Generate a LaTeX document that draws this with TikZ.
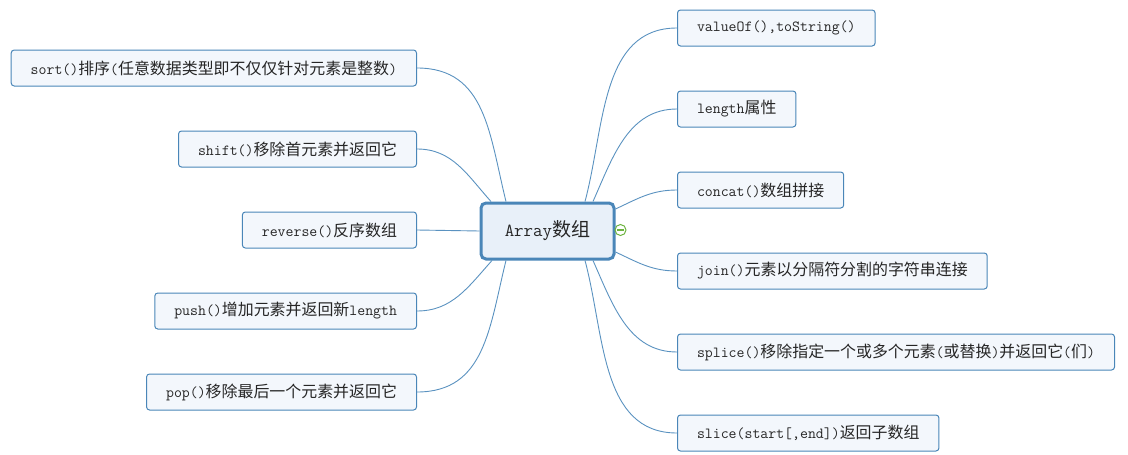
\documentclass[tikz,border=0pt]{standalone}
\usepackage{fontspec}
\newfontfamily\cjkfont{Noto Sans CJK SC}[Scale=1.035]
\usetikzlibrary{positioning}
\definecolor{MapBlue}{HTML}{4A86B8}
\definecolor{LineBlue}{HTML}{5A92C0}
\definecolor{TopicFill}{HTML}{F3F7FC}
\definecolor{RootFill}{HTML}{E8F0F9}
\definecolor{FoldGreen}{HTML}{6CB33F}
\newcommand{\zh}[1]{{\cjkfont #1}}

\begin{document}
\begin{tikzpicture}[
  x=1pt, y=1pt,
  root/.style={draw=MapBlue, line width=3pt, rounded corners=5pt, fill=RootFill, minimum width=133pt, minimum height=56pt, font=\fontsize{18.4}{21}\selectfont\ttfamily, text=black!85},
  topic/.style={draw=MapBlue, line width=1pt, rounded corners=3pt, fill=TopicFill, minimum height=36pt, inner xsep=19.5pt, font=\fontsize{15.4}{18}\selectfont\ttfamily, text=black!85},
  lhs/.style={topic, anchor=east},
  rhs/.style={topic, anchor=west},
  branch/.style={LineBlue, line width=0.9pt}
]
\useasboundingbox (0,0) rectangle (1128,-455);

\node[root] (arr) at (547.5,-231) {Array\zh{数组}};
\node[circle, draw=FoldGreen, line width=1pt, fill=white, minimum size=11pt, inner sep=0pt] (fold) at (620.5,-230) {};
\draw[FoldGreen, line width=1.2pt] ([xshift=-3.2pt]fold.center) -- ([xshift=3.2pt]fold.center);

% left side
\node[lhs] (sort) at (417,-68) {sort()\zh{排序}(\zh{任意数据类型即不仅仅针对元素是整数})};
\node[lhs] (shift) at (417,-149) {shift()\zh{移除首元素并返回它}};
\node[lhs] (reverse) at (417,-230) {reverse()\zh{反序数组}};
\node[lhs] (push) at (417,-311) {push()\zh{增加元素并返回新}length};
\node[lhs] (pop) at (417,-392) {pop()\zh{移除最后一个元素并返回它}};

% right side
\node[rhs] (valueof) at (677,-28) {valueOf(),toString()};
\node[rhs] (length) at (677,-109) {length\zh{属性}};
\node[rhs] (concat) at (677,-190) {concat()\zh{数组拼接}};
\node[rhs] (join) at (677,-271) {join()\zh{元素以分隔符分割的字符串连接}};
\node[rhs] (splice) at (677,-352) {splice()\zh{移除指定一个或多个元素}(\zh{或替换})\zh{并返回它}(\zh{们})};
\node[rhs] (slice) at (677,-433) {slice(start[,end])\zh{返回子数组}};

\draw[branch] ([xshift=-41.5pt]arr.north) to[out=104, in=0, looseness=1.1] (sort.east);
\draw[branch] ([xshift=-56.5pt]arr.north) to[out=132, in=0] (shift.east);
\draw[branch] (arr.west) -- (reverse.east);
\draw[branch] ([xshift=-55.5pt]arr.south) to[out=228, in=0] (push.east);
\draw[branch] ([xshift=-41.5pt]arr.south) to[out=256, in=0, looseness=1.1] (pop.east);

\draw[branch] ([xshift=37.5pt]arr.north) to[out=75, in=180] (valueof.west);
\draw[branch] ([xshift=45.5pt]arr.north) to[out=66, in=180] (length.west);
\draw[branch] ([yshift=22pt]arr.east) to[out=25, in=180] (concat.west);
\draw[branch] ([yshift=-21pt]arr.east) to[out=-25, in=180] (join.west);
\draw[branch] ([xshift=45.5pt]arr.south) to[out=-66, in=180] (splice.west);
\draw[branch] ([xshift=37.5pt]arr.south) to[out=-75, in=180] (slice.west);
\end{tikzpicture}
\end{document}
